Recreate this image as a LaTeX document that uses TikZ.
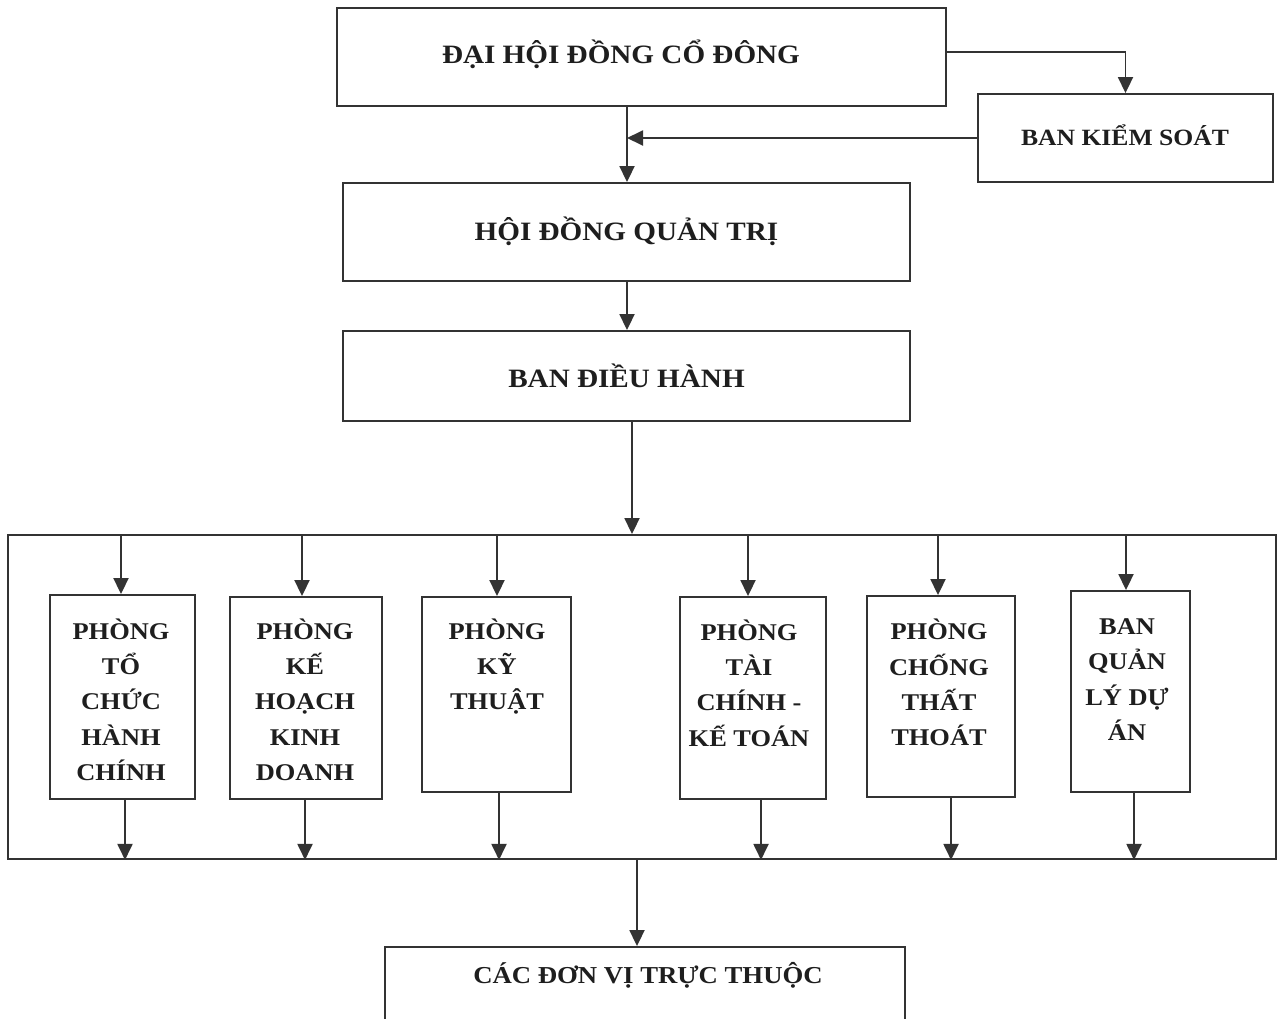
\documentclass[tikz,border=0pt]{standalone}
\usepackage{fontspec}
\setmainfont{Liberation Serif}[FakeStretch=1.1]
\usetikzlibrary{arrows.meta}
\definecolor{ln}{HTML}{333333}
\definecolor{tx}{HTML}{1E1E1E}
\begin{document}
\begin{tikzpicture}[x=1pt,y=-1pt,
  box/.style={draw=ln, line width=1.9pt, rectangle, inner sep=0pt},
  arr/.style={draw=ln, line width=1.9pt, -{Triangle[width=15pt,length=16pt]}},
  head/.style={text=tx, font=\bfseries\fontsize{26.5}{32}\selectfont, anchor=base, inner sep=0pt},
  dept/.style={text=tx, font=\bfseries\fontsize{24}{35.3}\selectfont, align=center, anchor=north, inner sep=0pt, execute at begin node=\strut}]
\useasboundingbox (0,0) rectangle (1279,1018);
\fill[white] (0,0) rectangle (1279,1018);

% main boxes
\node[box, minimum width=609pt, minimum height=98pt] (dh) at (641.5,57) {};
\node[head] (dht) at (621,63) {ĐẠI HỘI ĐỒNG CỔ ĐÔNG};
\node[box, minimum width=295pt, minimum height=88pt] (bks) at (1125.5,138) {};
\node[head, font=\bfseries\fontsize{23.3}{28}\selectfont] (bkst) at (1125,145) {BAN KIỂM SOÁT};
\node[box, minimum width=567pt, minimum height=98pt] (hdqt) at (626.5,232) {};
\node[head] (hdqtt) at (626.5,240) {HỘI ĐỒNG QUẢN TRỊ};
\node[box, minimum width=567pt, minimum height=90pt] (bdh) at (626.5,376) {};
\node[head] (bdht) at (626.5,387) {BAN ĐIỀU HÀNH};
\node[box, minimum width=1268pt, minimum height=324pt] (big) at (642,697) {};
\node[box, minimum width=520pt, minimum height=88pt] (dv) at (645,991) {};
\node[head, font=\bfseries\fontsize{24.3}{30}\selectfont] (dvt) at (648,983) {CÁC ĐƠN VỊ TRỰC THUỘC};

% department boxes
\node[box, minimum width=145pt, minimum height=204pt] (p1) at (122.5,697) {};
\node[box, minimum width=152pt, minimum height=202pt] (p2) at (306,698) {};
\node[box, minimum width=149pt, minimum height=195pt] (p3) at (496.5,694.5) {};
\node[box, minimum width=146pt, minimum height=202pt] (p4) at (753,698) {};
\node[box, minimum width=148pt, minimum height=201pt] (p5) at (941,696.5) {};
\node[box, minimum width=119pt, minimum height=201pt] (p6) at (1130.5,691.5) {};

\node[dept] (t1) at (121,618.5) {PHÒNG\\TỔ\\CHỨC\\HÀNH\\CHÍNH};
\node[dept] (t2) at (305,618.5) {PHÒNG\\KẾ\\HOẠCH\\KINH\\DOANH};
\node[dept] (t3) at (497,618.5) {PHÒNG\\KỸ\\THUẬT};
\node[dept] (t4) at (749,619.5) {PHÒNG\\TÀI\\CHÍNH -\\KẾ TOÁN};
\node[dept] (t5) at (939,619) {PHÒNG\\CHỐNG\\THẤT\\THOÁT};
\node[dept] (t6) at (1127,618.5) {BAN\\QUẢN\\LÝ DỰ\\ÁN};

% x positions of connectors
\coordinate (v1) at (627,0);
\coordinate (v2) at (632,0);
\coordinate (v3) at (637,0);
\coordinate (i1) at (121,0);  \coordinate (o1) at (125,0);
\coordinate (i2) at (302,0);  \coordinate (o2) at (305,0);
\coordinate (i3) at (497,0);  \coordinate (o3) at (499,0);
\coordinate (i4) at (748,0);  \coordinate (o4) at (761,0);
\coordinate (i5) at (938,0);  \coordinate (o5) at (951,0);
\coordinate (i6) at (1126,0); \coordinate (o6) at (1134,0);

% connectors
\draw[arr] ([yshift=5pt]dh.east) -| (bks.north);
\draw[arr] (bks.west) -- (v1 |- bks.west);
\draw[arr] (dh.south -| v1) -- (hdqt.north -| v1);
\draw[arr] (hdqt.south -| v1) -- (bdh.north -| v1);
\draw[arr] (bdh.south -| v2) -- (big.north -| v2);
\foreach \k in {1,...,6}{
  \draw[arr] (big.north -| i\k) -- (p\k.north -| i\k);
  \draw[arr] (p\k.south -| o\k) -- (big.south -| o\k);
}
\draw[arr] (big.south -| v3) -- (dv.north -| v3);
\end{tikzpicture}
\end{document}
